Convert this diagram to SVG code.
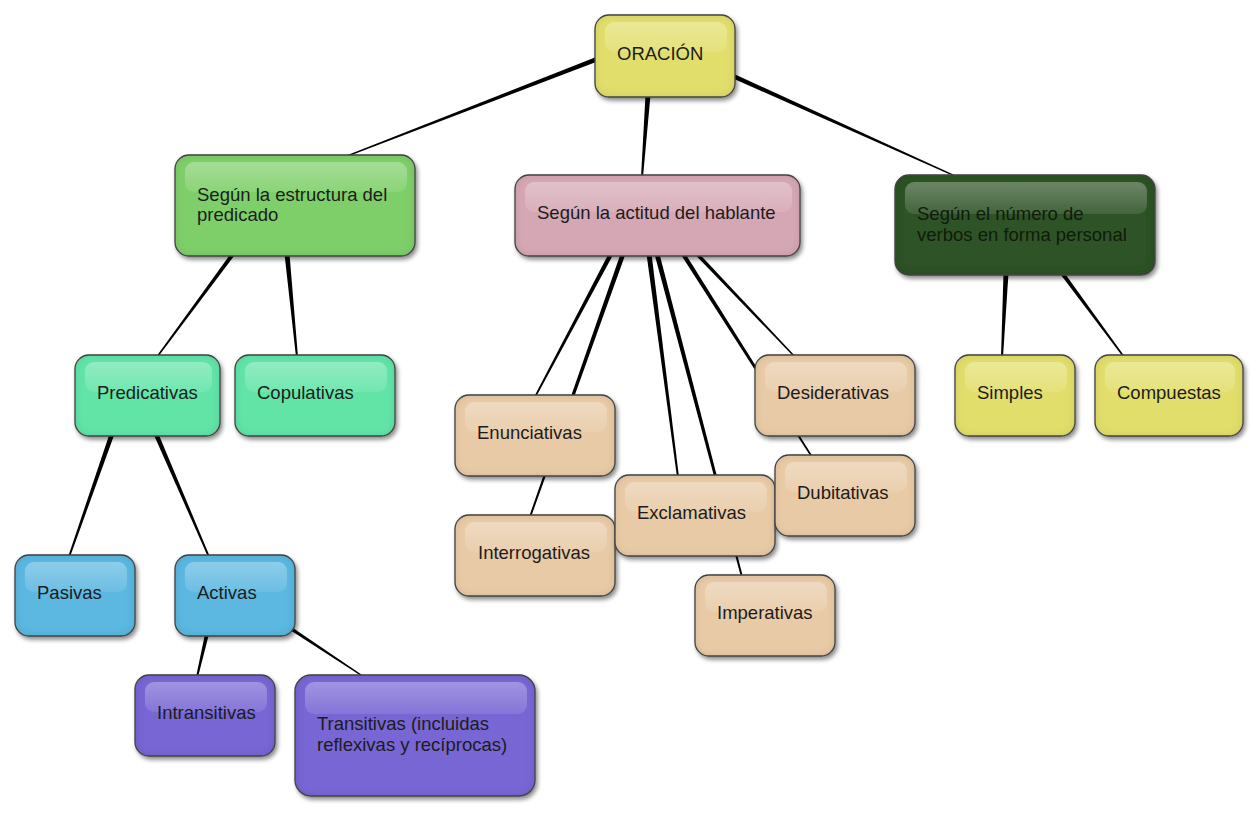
<svg xmlns="http://www.w3.org/2000/svg" width="1260" height="820" viewBox="0 0 1260 820">
<defs>
<filter id="fx" x="-10%" y="-15%" width="125%" height="140%">
 <feGaussianBlur in="SourceAlpha" stdDeviation="2.2" result="b1"/>
 <feOffset in="b1" dx="1.5" dy="2.5" result="o1"/>
 <feFlood flood-color="#000" flood-opacity="0.45"/>
 <feComposite in2="o1" operator="in" result="drop"/>
 <feComponentTransfer in="SourceAlpha" result="inv"><feFuncA type="table" tableValues="1 0"/></feComponentTransfer>
 <feGaussianBlur in="inv" stdDeviation="4" result="ib"/>
 <feFlood flood-color="#000" flood-opacity="0.28"/>
 <feComposite in2="ib" operator="in" result="ic"/>
 <feComposite in="ic" in2="SourceAlpha" operator="in" result="inner"/>
 <feMerge><feMergeNode in="drop"/><feMergeNode in="SourceGraphic"/><feMergeNode in="inner"/></feMerge>
</filter>
<linearGradient id="gl" x1="0" y1="0" x2="0" y2="1">
 <stop offset="0" stop-color="#fff" stop-opacity="0.3"/>
 <stop offset="1" stop-color="#fff" stop-opacity="0.1"/>
</linearGradient>
</defs>
<style>
.box{stroke:#4a4a4a;stroke-width:1.3;filter:url(#fx)}
.hl{fill:url(#gl)}
.lbl{font-family:"Liberation Sans",Arial,sans-serif;font-size:18.5px;fill:#1c1c1c}
.yellow .box{fill:#e2de6c}
.green .box{fill:#7ecf69}
.pink .box{fill:#d5a7b4}
.dgreen .box{fill:#2f5226}
.dgreen .lbl{fill:#111a0d}
.mint .box{fill:#62e4a7}
.blue .box{fill:#5bb7e1}
.purple .box{fill:#7866d4}
.tan .box{fill:#e8caa6}
.conn polygon{fill:#000}
</style>
<g id="connectors" class="conn">
 <polygon points="600,55.5 600,60.5 347,156.8 347,155.2"/>
 <polygon points="733,73.5 733,78.5 955,176.8 955,175.2"/>
 <polygon points="645.5,95 650.5,95 643,177 641,177"/>
 <polygon points="230.5,254 235.5,254 158,357 156,357"/>
 <polygon points="284.5,254 289.5,254 298,357 296,357"/>
 <polygon points="109.5,434 114.5,434 70,557 68,557"/>
 <polygon points="153.5,434 158.5,434 210,557 208,557"/>
 <polygon points="205,634 209,634 198,677 196,677"/>
 <polygon points="290,626 290,630 364,677.8 364,676.2"/>
 <polygon points="608.5,254 613.5,254 536,397 534,397"/>
 <polygon points="620.5,254 625.5,254 531,517 529,517"/>
 <polygon points="646.5,254 651.5,254 679,477 677,477"/>
 <polygon points="654.5,254 659.5,254 743,577 741,577"/>
 <polygon points="680.5,254 685.5,254 813,457 811,457"/>
 <polygon points="694.5,254 699.5,254 796,357 794,357"/>
 <polygon points="1003.5,273 1008.5,273 1003,357 1001,357"/>
 <polygon points="1059.5,273 1064.5,273 1125,357 1123,357"/>
</g>
<g id="n-oracion" class="yellow"><rect class="box" x="595" y="15" width="140" height="82" rx="14"/><rect class="hl" x="605" y="22" width="122" height="30" rx="9"/><text class="lbl" x="617" y="60">ORACIÓN</text></g>
<g id="n-estructura" class="green"><rect class="box" x="175" y="155" width="240" height="101" rx="14"/><rect class="hl" x="185" y="162" width="222" height="30" rx="9"/><text class="lbl" x="197" y="201">Según la estructura del</text><text class="lbl" x="197" y="221">predicado</text></g>
<g id="n-actitud" class="pink"><rect class="box" x="515" y="175" width="285" height="81" rx="14"/><rect class="hl" x="525" y="182" width="267" height="30" rx="9"/><text class="lbl" x="537" y="219">Según la actitud del hablante</text></g>
<g id="n-numero" class="dgreen"><rect class="box" x="895" y="175" width="260" height="100" rx="14"/><rect class="hl" x="905" y="182" width="242" height="32" rx="9"/><text class="lbl" x="917" y="220">Según el número de</text><text class="lbl" x="917" y="241">verbos en forma personal</text></g>
<g id="n-predicativas" class="mint"><rect class="box" x="75" y="355" width="145" height="81" rx="14"/><rect class="hl" x="85" y="362" width="127" height="30" rx="9"/><text class="lbl" x="97" y="399">Predicativas</text></g>
<g id="n-copulativas" class="mint"><rect class="box" x="235" y="355" width="160" height="81" rx="14"/><rect class="hl" x="245" y="362" width="142" height="30" rx="9"/><text class="lbl" x="257" y="399">Copulativas</text></g>
<g id="n-pasivas" class="blue"><rect class="box" x="15" y="555" width="120" height="81" rx="14"/><rect class="hl" x="25" y="562" width="102" height="30" rx="9"/><text class="lbl" x="37" y="599">Pasivas</text></g>
<g id="n-activas" class="blue"><rect class="box" x="175" y="555" width="120" height="81" rx="14"/><rect class="hl" x="185" y="562" width="102" height="30" rx="9"/><text class="lbl" x="197" y="599">Activas</text></g>
<g id="n-intransitivas" class="purple"><rect class="box" x="135" y="675" width="140" height="81" rx="14"/><rect class="hl" x="145" y="682" width="122" height="30" rx="9"/><text class="lbl" x="157" y="719">Intransitivas</text></g>
<g id="n-transitivas" class="purple"><rect class="box" x="295" y="675" width="240" height="121" rx="16"/><rect class="hl" x="305" y="682" width="222" height="32" rx="9"/><text class="lbl" x="317" y="730">Transitivas (incluidas</text><text class="lbl" x="317" y="751">reflexivas y recíprocas)</text></g>
<g id="n-enunciativas" class="tan"><rect class="box" x="455" y="395" width="160" height="81" rx="14"/><rect class="hl" x="465" y="402" width="142" height="30" rx="9"/><text class="lbl" x="477" y="439">Enunciativas</text></g>
<g id="n-interrogativas" class="tan"><rect class="box" x="455" y="515" width="160" height="81" rx="14"/><rect class="hl" x="465" y="522" width="142" height="30" rx="9"/><text class="lbl" x="478" y="559">Interrogativas</text></g>
<g id="n-exclamativas" class="tan"><rect class="box" x="615" y="475" width="160" height="81" rx="14"/><rect class="hl" x="625" y="482" width="142" height="30" rx="9"/><text class="lbl" x="637" y="519">Exclamativas</text></g>
<g id="n-imperativas" class="tan"><rect class="box" x="695" y="575" width="140" height="81" rx="14"/><rect class="hl" x="705" y="582" width="122" height="30" rx="9"/><text class="lbl" x="717" y="619">Imperativas</text></g>
<g id="n-desiderativas" class="tan"><rect class="box" x="755" y="355" width="160" height="81" rx="14"/><rect class="hl" x="765" y="362" width="142" height="30" rx="9"/><text class="lbl" x="777" y="399">Desiderativas</text></g>
<g id="n-dubitativas" class="tan"><rect class="box" x="775" y="455" width="140" height="81" rx="14"/><rect class="hl" x="785" y="462" width="122" height="30" rx="9"/><text class="lbl" x="797" y="499">Dubitativas</text></g>
<g id="n-simples" class="yellow"><rect class="box" x="955" y="355" width="120" height="81" rx="14"/><rect class="hl" x="965" y="362" width="102" height="30" rx="9"/><text class="lbl" x="977" y="399">Simples</text></g>
<g id="n-compuestas" class="yellow"><rect class="box" x="1095" y="355" width="148" height="81" rx="14"/><rect class="hl" x="1105" y="362" width="130" height="30" rx="9"/><text class="lbl" x="1117" y="399">Compuestas</text></g>
</svg>
